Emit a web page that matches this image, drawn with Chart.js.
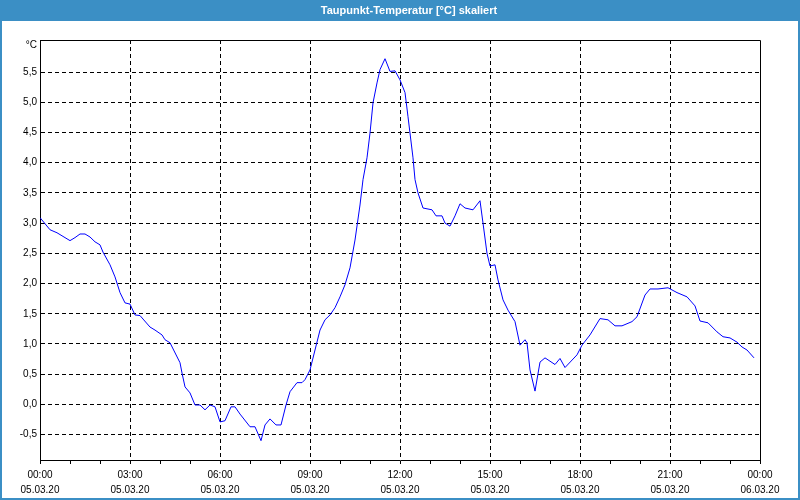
<!DOCTYPE html>
<html>
<head>
<meta charset="utf-8">
<script src="https://cdn.jsdelivr.net/npm/chart.js@4.4.1/dist/chart.umd.min.js"></script>
<style>
html,body{margin:0;padding:0;background:#fff;}
#wrap{width:800px;height:500px;position:relative;}
</style>
</head>
<body>
<div id="wrap"><canvas id="c" width="800" height="500"></canvas></div>
<script>
const titleText = 'Taupunkt-Temperatur [°C] skaliert';
const unitLabel = '°C';

// time of each reading, minutes after 05.03.20 00:00
const timesMin = [
  0, 20, 34, 50, 60, 70, 80, 90, 100, 110,
  120, 126, 140, 150, 160, 170, 180, 190, 200, 220,
  230, 244, 250, 260, 280, 284, 290, 300, 310, 320,
  330, 340, 350, 360, 370, 382, 390, 400, 420, 430,
  442, 450, 460, 472, 482, 492, 500, 514, 524, 530,
  540, 550, 560, 570, 580, 590, 600, 610, 620, 630,
  640, 646, 654, 660, 666, 674, 680, 690, 700, 710,
  720, 730, 736, 746, 750, 756, 766, 784, 792, 804,
  810, 820, 830, 840, 850, 866, 880, 886, 894, 900,
  910, 916, 926, 936, 950, 960, 970, 974, 980, 990,
  1000, 1010, 1030, 1040, 1050, 1074, 1084, 1100, 1120, 1136,
  1150, 1164, 1184, 1194, 1210, 1220, 1236, 1256, 1274, 1294,
  1310, 1320, 1336, 1354, 1366, 1380, 1394, 1404, 1414, 1428
];
// dew point temperature in °C
const dewPoint = [
  3.09, 2.89, 2.84, 2.76, 2.71, 2.76, 2.82, 2.82, 2.77, 2.69,
  2.64, 2.52, 2.31, 2.11, 1.85, 1.68, 1.66, 1.48, 1.47, 1.28,
  1.23, 1.15, 1.07, 1.02, 0.69, 0.52, 0.29, 0.19, -0.01, -0.01,
  -0.09, -0.01, -0.04, -0.29, -0.27, -0.04, -0.04, -0.16, -0.37, -0.37,
  -0.60, -0.34, -0.24, -0.34, -0.34, -0.01, 0.21, 0.36, 0.36, 0.41,
  0.57, 0.90, 1.23, 1.40, 1.48, 1.60, 1.78, 1.98, 2.26, 2.72,
  3.30, 3.72, 4.08, 4.49, 4.99, 5.32, 5.54, 5.72, 5.51, 5.52,
  5.37, 5.16, 4.76, 4.08, 3.72, 3.50, 3.25, 3.22, 3.12, 3.12,
  3.00, 2.95, 3.12, 3.32, 3.25, 3.22, 3.37, 3.00, 2.50, 2.29,
  2.31, 2.06, 1.73, 1.56, 1.37, 0.98, 1.07, 1.02, 0.57, 0.22,
  0.70, 0.77, 0.66, 0.76, 0.61, 0.82, 0.98, 1.15, 1.42, 1.40,
  1.30, 1.30, 1.37, 1.45, 1.81, 1.91, 1.91, 1.93, 1.85, 1.78,
  1.63, 1.38, 1.35, 1.20, 1.12, 1.10, 1.03, 0.95, 0.90, 0.77
];

const xTickLabels = ['00:00','03:00','06:00','09:00','12:00','15:00','18:00','21:00','00:00'];
const xDateLabels = ['05.03.20','05.03.20','05.03.20','05.03.20','05.03.20','05.03.20','05.03.20','05.03.20','06.03.20'];
const yTickValues = [-0.5, 0, 0.5, 1, 1.5, 2, 2.5, 3, 3.5, 4, 4.5, 5, 5.5];
const yTickLabels = ['-0,5','0,0','0,5','1,0','1,5','2,0','2,5','3,0','3,5','4,0','4,5','5,0','5,5'];

const FONT = 'Liberation Sans';
const BAR_BLUE = '#3b8fc5';

const frame = {
  id: 'frame',
  beforeDraw(chart) {
    const ctx = chart.ctx;
    ctx.save();
    ctx.fillStyle = '#ffffff';
    ctx.fillRect(0, 0, 800, 500);
    ctx.fillStyle = BAR_BLUE;
    ctx.fillRect(0, 0, 800, 21);
    ctx.strokeStyle = BAR_BLUE;
    ctx.lineWidth = 2;
    ctx.strokeRect(1, 0, 798, 499);
    ctx.restore();
  },
  afterDraw(chart) {
    const ctx = chart.ctx;
    const a = chart.chartArea;
    ctx.save();
    ctx.strokeStyle = '#000';
    ctx.lineWidth = 1;
    ctx.beginPath();
    ctx.moveTo(Math.round(a.left) + 0.5, Math.round(a.top) + 0.5);
    ctx.lineTo(Math.round(a.right) + 0.5, Math.round(a.top) + 0.5);
    ctx.lineTo(Math.round(a.right) + 0.5, Math.round(a.bottom) + 0.5);
    ctx.stroke();
    ctx.fillStyle = '#000';
    ctx.font = '10px "' + FONT + '"';
    ctx.textAlign = 'right';
    ctx.textBaseline = 'middle';
    ctx.fillText(unitLabel, a.left - 3, a.top + 5);
    ctx.restore();
  }
};

new Chart(document.getElementById('c'), {
  type: 'line',
  data: {
    datasets: [{
      data: timesMin.map((t, i) => ({ x: t, y: dewPoint[i] })),
      borderColor: '#0000ff',
      borderWidth: 1,
      pointRadius: 0,
      tension: 0,
      fill: false
    }]
  },
  options: {
    responsive: false,
    animation: false,
    devicePixelRatio: 1,
    layout: { padding: { left: 18, right: 0, top: 0, bottom: 0 } },
    plugins: {
      legend: { display: false },
      tooltip: { enabled: false },
      title: {
        display: true,
        text: titleText,
        color: '#ffffff',
        font: { family: FONT, size: 11, weight: 'bold', lineHeight: 1.2 },
        padding: { top: 4, bottom: 22.8 }
      }
    },
    scales: {
      x: {
        type: 'linear',
        min: 0,
        max: 1440,
        afterBuildTicks: s => { s.ticks = Array.from({ length: 25 }, (_, h) => ({ value: h * 60 })); },
        afterFit: s => { s.height = 40; },
        ticks: {
          autoSkip: false,
          maxRotation: 0,
          minRotation: 0,
          padding: 3,
          color: '#000',
          font: { family: FONT, size: 10, lineHeight: 1.55 },
          callback: v => {
            const i = v / 180;
            return Number.isInteger(i) ? [xTickLabels[i], xDateLabels[i]] : '';
          }
        },
        grid: {
          color: c => (c.tick && c.tick.value % 180 === 0 && c.tick.value > 0 && c.tick.value < 1440) ? '#000' : 'rgba(0,0,0,0)',
          lineWidth: 1,
          drawTicks: true,
          tickLength: 4,
          tickColor: '#000',
          tickBorderDash: []
        },
        border: { display: true, color: '#000', width: 1, dash: [4, 3] }
      },
      y: {
        type: 'linear',
        min: -0.92,
        max: 6.03,
        afterBuildTicks: s => { s.ticks = yTickValues.map(v => ({ value: v })); },
        afterFit: s => { s.width = 22; },
        ticks: {
          padding: 3,
          color: '#000',
          font: { family: FONT, size: 10 },
          callback: (v, i) => yTickLabels[i]
        },
        grid: {
          color: '#000',
          lineWidth: 1,
          drawTicks: false,
          tickLength: 0
        },
        border: { display: true, color: '#000', width: 1, dash: [4, 3] }
      },
      y2: {
        type: 'linear',
        position: 'right',
        display: true,
        afterFit: s => { s.width = 40; },
        ticks: { display: false },
        grid: { display: false },
        border: { display: false }
      }
    }
  },
  plugins: [frame]
});
</script>
</body>
</html>
